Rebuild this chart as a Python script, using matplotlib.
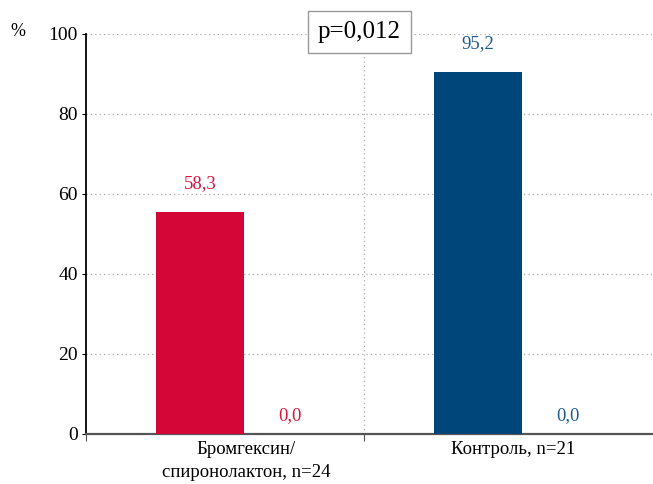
import matplotlib.pyplot as plt

plt.rcParams['font.family'] = ['Liberation Serif', 'DejaVu Serif']

# данные
groups = ['Бромгексин/\nспиронолактон, n=24', 'Контроль, n=21']
bar_heights = [55.5, 90.5]       # высота столбцов, как на рисунке
second_heights = [0.0, 0.0]
value_labels = ['58,3', '95,2']
second_labels = ['0,0', '0,0']
bar_colors = ['#D40637', '#00467A']
text_colors = ['#D5163F', '#1F5B90']
yticks = [0, 20, 40, 60, 80, 100]

fig = plt.figure(figsize=(6.53, 4.84), dpi=100)
ax = fig.add_axes([86/653, 1 - 434/484, 1 - 86/653, 400/484])

w = 0.317
x1 = [i + 0.252 + w/2 for i in range(len(groups))]
x2 = [i + 0.252 + 1.5*w for i in range(len(groups))]
ax.bar(x1, bar_heights, width=w, color=bar_colors, zorder=3)
ax.bar(x2, second_heights, width=w, color=bar_colors, zorder=3)

for i in range(len(groups)):
    ax.text(x1[i], bar_heights[i] + 5, value_labels[i], ha='center', va='bottom',
            color=text_colors[i], fontsize=13.5)
    ax.text(x2[i] + 0.005, second_heights[i] + 2.5, second_labels[i], ha='center', va='bottom',
            color=text_colors[i], fontsize=13.5)

ax.set_xlim(0, 567/278)
ax.set_ylim(0, 100)
ax.set_yticks(yticks)
ax.set_yticklabels([str(t) for t in yticks], fontsize=14)
ax.set_xticks([0, 1])
ax.set_xticklabels([])
# подписи групп чуть смещены вправо от центра категории
ax.set_xticks([0.576, 1.536], minor=True)
ax.set_xticklabels(groups, minor=True, fontsize=13.5, linespacing=1.45)
ax.tick_params(axis='x', which='minor', length=0, pad=5)
ax.tick_params(axis='x', which='major', length=5, color='#555555', direction='out')
ax.tick_params(axis='y', length=3, direction='out', pad=3)

ax.grid(axis='y', linestyle=(0, (1, 2.5)), color='#aaaaaa', linewidth=0.9, zorder=0)
ax.axvline(1, linestyle=(0, (1, 2.5)), color='#aaaaaa', linewidth=0.9, zorder=0)

for s in ['top', 'right']:
    ax.spines[s].set_visible(False)
ax.spines['left'].set_color('black')
ax.spines['left'].set_linewidth(1.3)
ax.spines['bottom'].set_color('#555555')
ax.spines['bottom'].set_linewidth(1.6)

fig.text(18/653, 1 - 32/484, '%', ha='center', va='center', fontsize=13)
fig.text(359/653, 1 - 32/484, 'p=0,012', ha='center', va='center', fontsize=18,
         bbox=dict(boxstyle='square,pad=0.4', facecolor='white', edgecolor='#999999', linewidth=1))

plt.savefig('out.png', dpi=100)
